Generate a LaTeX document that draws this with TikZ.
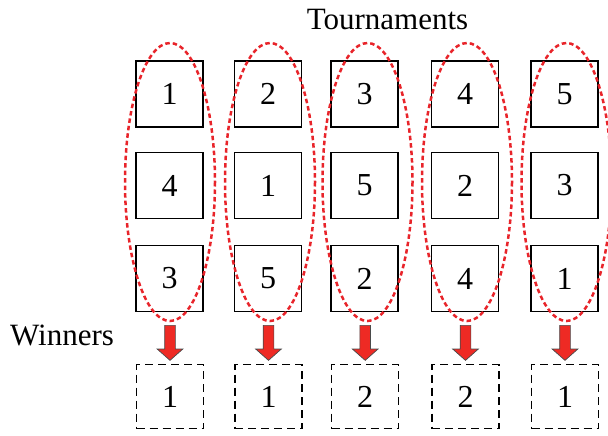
\documentclass[tikz,border=0pt]{standalone}
\usepackage{fontspec}
\setmainfont{Liberation Serif}
\usetikzlibrary{shapes.arrows}
\definecolor{ellred}{HTML}{E8242A}
\definecolor{arrred}{HTML}{EE2A24}
\definecolor{arredge}{HTML}{4A4A4A}
\begin{document}
\begin{tikzpicture}[x=1pt,y=-1pt,
  every node/.style={font=\fontsize{31}{36}\selectfont},
  digit/.style={font=\fontsize{32}{36}\selectfont},
  tbox/.style={digit, draw=black, line width=1.6pt, minimum width=67pt, minimum height=66pt, inner sep=0pt},
  wbox/.style={digit, draw=black, line width=1.5pt, dash pattern=on 8pt off 5pt, minimum width=67pt, minimum height=64pt, inner sep=0pt},
  tourn/.style={draw=ellred, line width=2.5pt, dash pattern=on 4.5pt off 3pt},
  winarrow/.style={single arrow, draw=arredge, fill=arrred, line width=0.7pt, rotate=-90,
    minimum height=35pt, inner sep=5pt, single arrow head extend=7.5pt, single arrow tip angle=97, font=\tiny}]
\useasboundingbox (0,0) rectangle (608,436);
\node[anchor=base] (title) at (387.5,30) {Tournaments};
\node[anchor=base west, inner sep=0pt] (winners) at (10,345) {Winners};
\foreach \i/\x/\ex/\a/\b/\c/\w in {1/169.5/170/1/4/3/1, 2/268/270/2/1/5/1, 3/364.7/367.5/3/5/2/2, 4/465/467/4/2/4/2, 5/564.5/566.5/5/3/1/1}{
  \node[tbox] (r1c\i) at (\x,94) {\a};
  \node[tbox] (r2c\i) at (\x,185.5) {\b};
  \node[tbox] (r3c\i) at (\x,278.5) {\c};
  \node[wbox] (w\i) at (\x+0.5,396.5) {\w};
  \draw[tourn] (\ex,182) ellipse [x radius=45, y radius=139];
  \node[winarrow] (a\i) at (\x+0.5,340.5) {};
}
\end{tikzpicture}
\end{document}
